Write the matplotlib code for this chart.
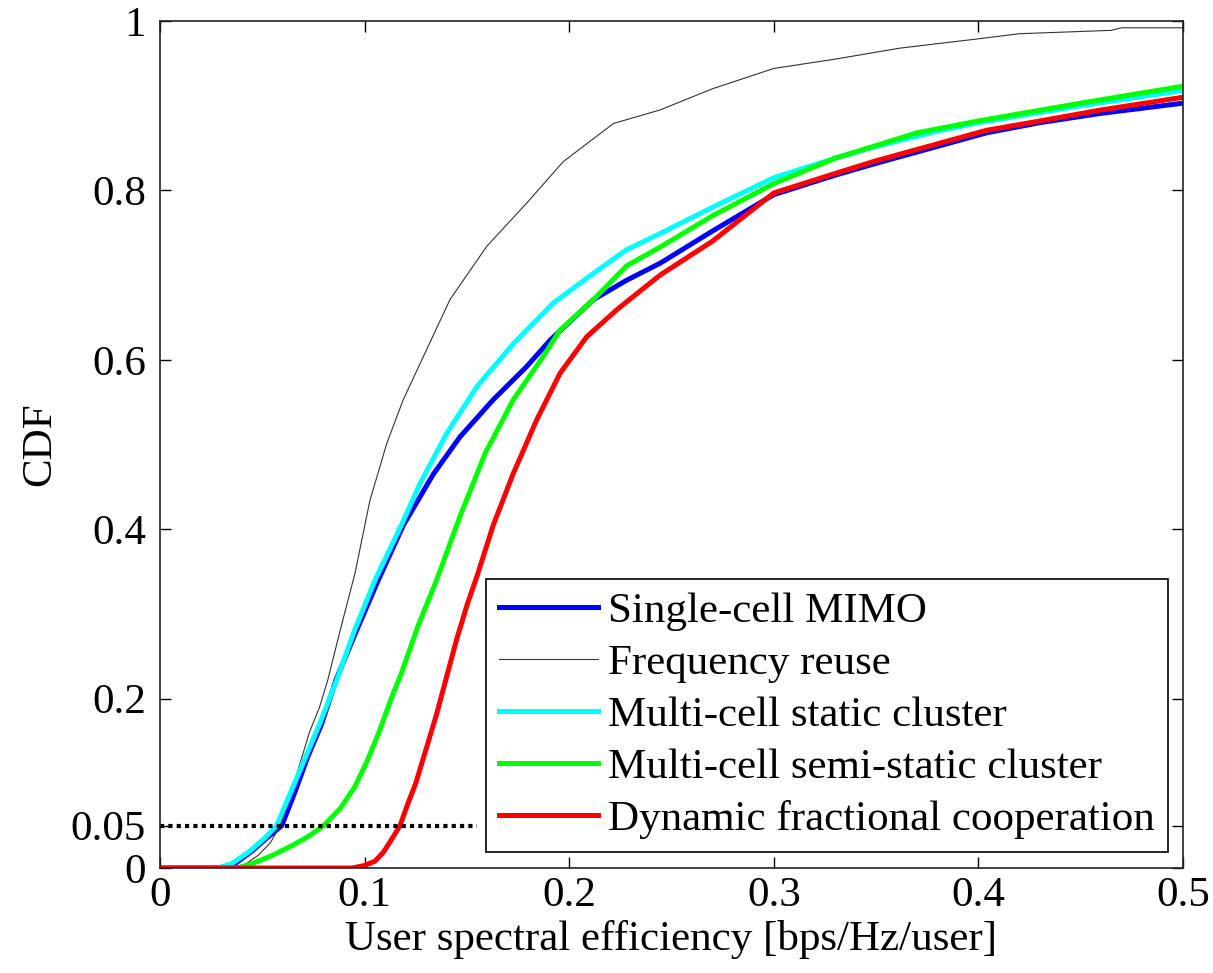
import numpy as np
import matplotlib.pyplot as plt

plt.rcParams['font.family'] = ['Liberation Serif', 'DejaVu Serif']

# CDF curves of user spectral efficiency [bps/Hz/user]
single_x = [0, 0.030, 0.036, 0.045, 0.052, 0.0595, 0.066, 0.072, 0.079, 0.086, 0.096,
            0.1067, 0.1190, 0.1336, 0.1466, 0.1629, 0.1792, 0.1906, 0.2118, 0.2281,
            0.2444, 0.27, 0.30, 0.33, 0.35, 0.38, 0.404, 0.43, 0.46, 0.5]
single_y = [0, 0, 0.004, 0.020, 0.035, 0.050, 0.090, 0.130, 0.170, 0.222, 0.280,
            0.340, 0.405, 0.465, 0.509, 0.553, 0.592, 0.623, 0.671, 0.694,
            0.714, 0.752, 0.795, 0.818, 0.832, 0.852, 0.868, 0.880, 0.891, 0.903]

reuse_x = [0, 0.035, 0.042, 0.048, 0.054, 0.0587, 0.063, 0.068, 0.073, 0.078, 0.082,
           0.088, 0.0953, 0.1026, 0.1108, 0.1189, 0.1303, 0.1417, 0.1597, 0.1792,
           0.1971, 0.2216, 0.2444, 0.27, 0.30, 0.33, 0.3617, 0.40, 0.42, 0.465, 0.47, 0.5]
reuse_y = [0, 0, 0.005, 0.015, 0.030, 0.050, 0.080, 0.120, 0.160, 0.190, 0.222,
           0.280, 0.348, 0.434, 0.501, 0.553, 0.612, 0.671, 0.734, 0.785,
           0.834, 0.879, 0.895, 0.920, 0.944, 0.955, 0.968, 0.979, 0.985, 0.989, 0.992, 0.992]

static_x = [0, 0.028, 0.035, 0.044, 0.051, 0.057, 0.064, 0.071, 0.078, 0.0864, 0.095,
            0.1051, 0.1180, 0.1271, 0.1401, 0.1548, 0.1727, 0.1922, 0.2118, 0.2281,
            0.2444, 0.27, 0.30, 0.33, 0.35, 0.38, 0.40, 0.45, 0.5]
static_y = [0, 0, 0.005, 0.020, 0.035, 0.050, 0.090, 0.130, 0.170, 0.222, 0.280,
            0.340, 0.405, 0.454, 0.513, 0.568, 0.619, 0.667, 0.702, 0.730,
            0.749, 0.780, 0.815, 0.838, 0.852, 0.870, 0.880, 0.900, 0.918]

semi_x = [0, 0.038, 0.045, 0.055, 0.065, 0.073, 0.080, 0.088, 0.095, 0.101, 0.107,
          0.113, 0.118, 0.126, 0.1352, 0.1466, 0.1590, 0.1727, 0.1873, 0.1955,
          0.2118, 0.2281, 0.2444, 0.27, 0.30, 0.33, 0.37, 0.40, 0.45, 0.5]
semi_y = [0, 0, 0.005, 0.015, 0.027, 0.038, 0.050, 0.070, 0.095, 0.125, 0.160,
          0.200, 0.230, 0.285, 0.340, 0.415, 0.490, 0.553, 0.604, 0.635,
          0.671, 0.711, 0.733, 0.770, 0.808, 0.838, 0.868, 0.882, 0.903, 0.923]

dynamic_x = [0, 0.094, 0.100, 0.105, 0.109, 0.113, 0.1173, 0.121, 0.125, 0.130, 0.135,
             0.140, 0.145, 0.150, 0.155, 0.1629, 0.1727, 0.1841, 0.1955, 0.2085,
             0.2232, 0.2444, 0.27, 0.30, 0.33, 0.35, 0.38, 0.404, 0.43, 0.46, 0.5]
dynamic_y = [0, 0, 0.003, 0.008, 0.018, 0.033, 0.050, 0.075, 0.100, 0.140, 0.180,
             0.225, 0.270, 0.310, 0.345, 0.405, 0.466, 0.529, 0.584, 0.627,
             0.659, 0.700, 0.740, 0.797, 0.820, 0.835, 0.855, 0.871, 0.882, 0.895, 0.910]

outage_level = 0.05
outage_line_end = 0.155

labels = ['Single-cell MIMO', 'Frequency reuse', 'Multi-cell static cluster',
          'Multi-cell semi-static cluster', 'Dynamic fractional cooperation']

xticks = [0, 0.1, 0.2, 0.3, 0.4, 0.5]
xticklabels = ['0', '0.1', '0.2', '0.3', '0.4', '0.5']
yticks = [0, 0.05, 0.2, 0.4, 0.6, 0.8, 1]
yticklabels = ['0', '0.05', '0.2', '0.4', '0.6', '0.8', '1']

fig = plt.figure(figsize=(12.13, 9.73), dpi=100)
ax = fig.add_axes([0.1319, 0.1079, 0.8434, 0.8705])

lw = 3.6
ax.plot(single_x, single_y, color='#0000ff', lw=lw, label=labels[0])
ax.plot(reuse_x, reuse_y, color='#333333', lw=0.8, label=labels[1])
ax.plot(static_x, static_y, color='#00ffff', lw=lw, label=labels[2])
ax.plot(semi_x, semi_y, color='#00ff00', lw=lw, label=labels[3])
ax.plot(dynamic_x, dynamic_y, color='#ff0000', lw=lw, label=labels[4])

# 5% outage marker
ax.plot([0, outage_line_end], [outage_level, outage_level], color='black',
        lw=3, linestyle=(0, (1, 1)))

ax.set_xlim(0, 0.5)
ax.set_ylim(0, 1)
ax.set_xticks(xticks)
ax.set_xticklabels(xticklabels)
ax.set_yticks(yticks)
ax.set_yticklabels(yticklabels)
ax.tick_params(direction='in', length=8, width=1, top=True, right=True,
               labelsize=31)
ax.tick_params(axis='x', pad=6)
ax.tick_params(axis='y', pad=10)
for sp in ax.spines.values():
    sp.set_linewidth(1.2)
    sp.set_color('#222222')

ax.set_xlabel('User spectral efficiency [bps/Hz/user]', fontsize=31, labelpad=4)
ax.set_ylabel('CDF', fontsize=31, labelpad=8)

leg = ax.legend(loc='lower right', bbox_to_anchor=(0.9853, 0.0189),
                borderaxespad=0, fontsize=31, fancybox=False, framealpha=1,
                edgecolor='black', handlelength=2.3, handletextpad=0.25,
                labelspacing=0.3, borderpad=0.3)
leg.get_frame().set_linewidth(1.2)

fig.savefig('out.png', dpi=100)
